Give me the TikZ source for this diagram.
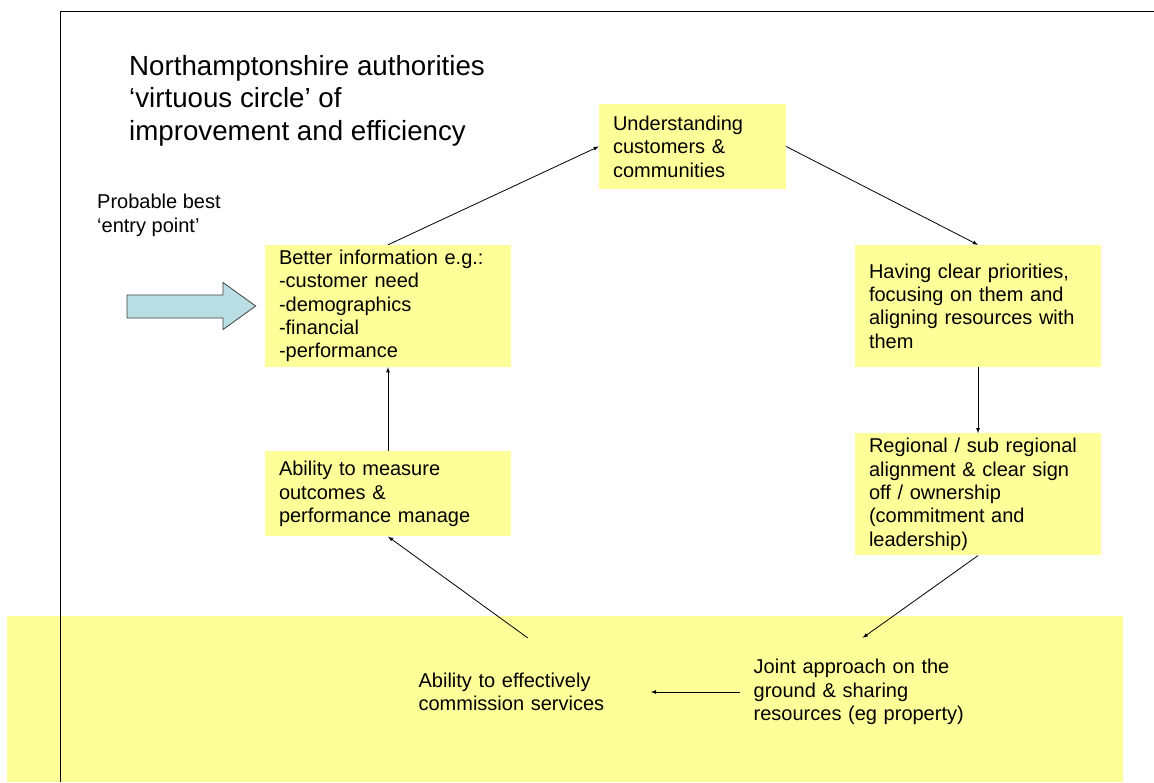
\documentclass[tikz,border=0pt]{standalone}
\usepackage{fontspec}
\setmainfont{Liberation Sans}
\usetikzlibrary{positioning}
\definecolor{noteyellow}{HTML}{FFFF99}
\definecolor{entryblue}{HTML}{B9DFE4}

\begin{document}
\begin{tikzpicture}[
            x = 1pt, y = -1pt,
            block/.style = {
                rectangle,
                fill = noteyellow,
                text width = 218pt,
                inner xsep = 14pt,
                align = left,
                font = \fontsize{20}{23.4}\selectfont},
            label/.style = {
                anchor = west,
                inner sep = 0pt,
                align = left},
            arrow/.style = {
                draw,
                line width = 0.8pt,
                -latex}]
        \useasboundingbox (0,0) rectangle (1154,782);
        % Band and frame
        \fill [noteyellow] (7,615.7) rectangle (1123,782);
        \draw [line width=1pt] (60,782) -- (60,11.3) -- (1154,11.3);

        % Place nodes
        \node [label, font=\fontsize{27.7}{32.5}\selectfont] (title) at (129,100.4) {Northamptonshire authorities\\‘virtuous circle’ of\\improvement and efficiency};
        \node [label, font=\fontsize{20}{24}\selectfont] (entry) at (97,215) {Probable best\\‘entry point’};
        \node [block, minimum height=122pt] (info) at (388,306) {Better information e.g.:\\-customer need\\-demographics\\-financial\\-performance};
        \node [block, minimum height=85pt, below=84pt of info] (measure) {Ability to measure\\outcomes \&\\performance manage};
        \node [block, minimum height=85pt, text width=159pt] (underst) at (692.5,146.5) {Understanding\\customers \&\\communities};
        \node [block, minimum height=122pt] (prio) at (978,306) {Having clear priorities,\\focusing on them and\\aligning resources with\\them};
        \node [block, minimum height=122pt, below=66pt of prio] (regional) {Regional / sub regional\\alignment \& clear sign\\off / ownership\\(commitment and\\leadership)};
        \node [block, fill=none, minimum height=108pt] (joint) at (862.7,692) {Joint approach on the\\ground \& sharing\\resources (eg property)};
        \node [block, fill=none, minimum height=108pt, left=88.7pt of joint] (commission) {Ability to effectively\\commission services};

        % Entry arrow
        \draw [fill=entryblue, draw=black!75, line width=0.8pt] (127,295) -- (223,295) -- (223,282.5) -- (255.7,306) -- (223,329.5) -- (223,318) -- (127,318) -- cycle;

        % Draw edges
        \path [arrow] (info.north) -- (underst.west);
        \path [arrow] (underst.east) -- (prio.north);
        \path [arrow] (prio) -- (regional);
        \path [arrow] (regional.south) -- (joint.north);
        \path [arrow] (joint) -- (commission);
        \path [arrow] (commission.north) -- (measure.south);
        \path [arrow] (measure) -- (info);
    \end{tikzpicture}
\end{document}
